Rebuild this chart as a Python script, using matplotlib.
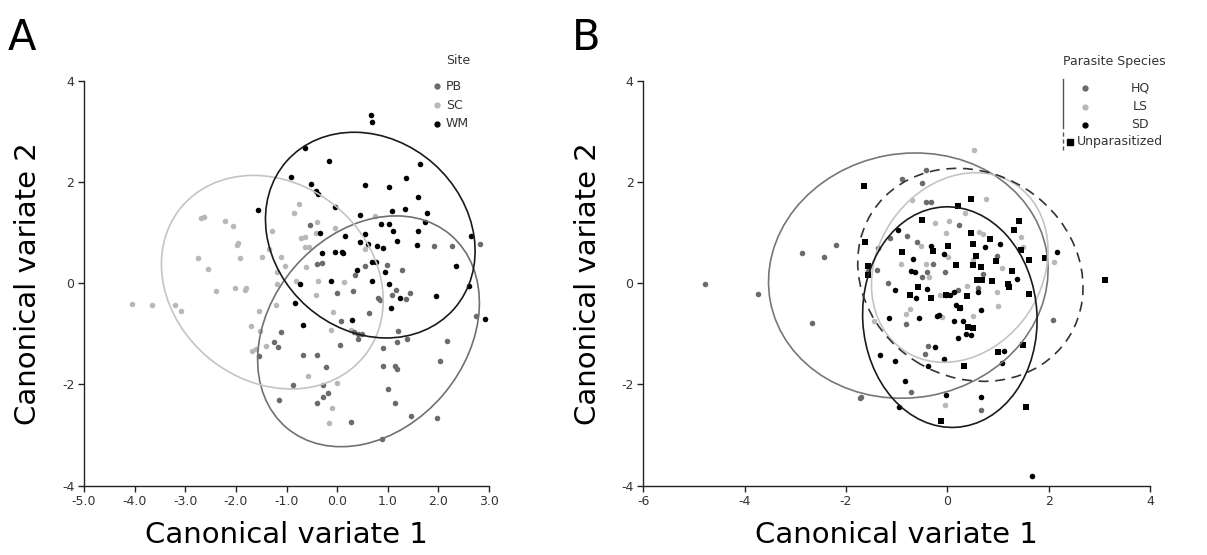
import matplotlib
matplotlib.use("Agg")
import matplotlib.pyplot as plt
from matplotlib.patches import Ellipse
from matplotlib.lines import Line2D

# ---- Panel A: canonical variates by site ----
pb_x = [1.92, 2.27, 2.82, 0.56, 0.98, 1.29, 0.35, -0.39, -0.29, 1.16, 1.08, 1.43, 1.36, 0.81, 0.85,
        0.00, 0.32, -0.53, 0.62, 0.08, 1.21, 0.33, 0.41, 0.50, 0.42, 1.18, 1.38, 2.18, 2.74, -1.11,
        -1.24, -1.17, -1.54, -0.68, -0.39, 0.06, 0.91, 0.90, -0.22, 1.14, 1.19, 2.03, -0.88, -0.27,
        1.01, -0.19, -0.27, -1.14, -0.39, 1.15, 1.45, 1.98, 0.28, 0.89]
pb_y = [0.74, 0.74, 0.77, 0.33, 0.36, 0.26, 0.16, 0.37, 0.39, -0.13, -0.23, -0.19, -0.31, -0.30, -0.34,
        -0.20, -0.16, 1.14, -0.59, -0.74, -0.95, -0.96, -1.01, -1.01, -1.11, -1.17, -1.10, -1.15, -0.64, -0.97,
        -1.16, -1.26, -1.43, -1.42, -1.42, -1.23, -1.28, -1.64, -1.66, -1.63, -1.69, -1.53, -2.01, -2.01,
        -2.09, -2.16, -2.24, -2.30, -2.36, -2.37, -2.63, -2.66, -2.74, -3.07]

sc_x = [-4.06, -3.66, -3.21, -3.08, -2.68, -2.62, -2.21, -2.06, -1.96, -1.97, -2.74, -2.55, -1.91, -2.40,
        -2.02, -1.80, -1.81, -1.48, -1.34, -1.28, -1.10, -1.03, -1.18, -1.19, -1.55, -1.20, -1.70, -1.52,
        -1.68, -1.61, -1.41, -0.86, -0.75, -0.72, -0.64, -0.64, -0.56, -0.39, -0.42, -0.04, -0.61, -0.38,
        -0.82, 0.13, -0.42, -0.09, -0.12, 0.56, 0.74, 0.27, -0.57, 0.00, -0.10, -0.16]
sc_y = [-0.41, -0.43, -0.43, -0.54, 1.28, 1.30, 1.23, 1.13, 0.80, 0.76, 0.50, 0.28, 0.50, -0.15,
        -0.10, -0.09, -0.14, 0.52, 0.68, 1.03, 0.51, 0.33, 0.23, -0.01, -0.54, -0.44, -0.84, -0.95,
        -1.34, -1.29, -1.25, 1.38, 1.57, 0.89, 0.92, 0.71, 0.71, 1.20, 0.99, 1.09, 0.32, 0.05,
        0.04, 0.02, -0.24, -0.57, -0.93, 0.68, 1.32, -0.93, -1.84, -1.97, -2.46, -2.77]

wm_x = [0.67, 0.69, -0.64, -0.16, 1.63, -0.92, 1.37, -0.52, 0.55, 1.02, -0.41, -0.37, 1.60, -1.57,
        -0.04, 1.34, 1.08, 1.77, 0.46, 1.73, 0.87, 1.02, 1.59, 1.10, -0.34, 0.56, 2.64, 0.16, 1.18,
        0.45, 0.61, 1.58, 0.79, 0.90, -0.29, -0.04, 0.09, 0.12, 0.69, 0.77, 2.35, 0.39, 0.94, -0.12,
        0.69, -0.73, 1.02, 2.61, -0.84, 1.24, 1.95, 1.06, 0.29, -0.67, 2.92]
wm_y = [3.32, 3.18, 2.68, 2.41, 2.36, 2.09, 2.07, 1.95, 1.93, 1.91, 1.82, 1.77, 1.71, 1.44,
        1.50, 1.46, 1.42, 1.39, 1.35, 1.20, 1.17, 1.16, 1.03, 1.03, 0.99, 0.97, 0.93, 0.93, 0.83,
        0.82, 0.78, 0.75, 0.73, 0.70, 0.59, 0.61, 0.61, 0.59, 0.41, 0.41, 0.33, 0.26, 0.23, 0.05,
        0.05, -0.01, -0.02, -0.05, -0.40, -0.30, -0.26, -0.48, -0.73, -0.82, -0.71]

# confidence ellipses (centre x, centre y, width, height, angle) for PB, SC, WM
site_ell_cx = [0.62, -1.28, 0.655]
site_ell_cy = [-0.95, 0.02, 0.95]
site_ell_w = [5.00, 4.66, 4.41]
site_ell_h = [3.87, 3.91, 3.77]
site_ell_ang = [49.6, -38.7, -41.5]

# ---- Panel B: canonical variates by parasite species ----
hq_x = [-4.78, -3.74, -2.68, -2.87, -2.43, -2.20, -1.72, -1.70, -0.89, -0.49, -0.42, -0.42, -0.33,
        -1.18, -1.38, -1.36, -1.14, -0.79, -0.60, -0.50, -0.40, -0.28, 0.23, -0.04, 0.21, -0.81,
        -0.39, -0.45, -0.71, 0.67, 2.09, 0.60, 0.98, 0.70, -1.56]
hq_y = [-0.02, -0.22, -0.79, 0.59, 0.52, 0.76, -2.26, -2.25, 2.05, 1.98, 2.24, 1.61, 1.61,
        0.00, 0.27, 0.70, 0.90, 0.94, 0.82, 0.13, 0.22, 0.38, 1.14, 0.22, -0.13, -0.81,
        -1.24, -1.39, -2.15, -2.50, -0.72, -0.09, 0.53, 0.18, 0.24]

ls_x = [0.52, 0.76, -0.70, 0.35, 0.03, -0.25, -0.02, 0.62, 0.70, 1.46, -0.51, -0.92, -0.43, -0.36,
        0.02, 1.08, 1.50, 2.11, 0.39, 0.98, 1.01, -0.15, -0.11, 0.50, -0.81, -0.74, -1.45, -0.05,
        1.22, 0.51]
ls_y = [2.64, 1.66, 1.65, 1.39, 1.23, 1.18, 1.00, 1.01, 0.98, 0.92, 0.73, 0.38, 0.38, 0.12,
        0.51, 0.30, 0.72, 0.42, -0.05, -0.18, -0.45, -0.24, -0.67, -0.64, -0.61, -0.50, -0.74, -2.40,
        -0.03, 0.45]

sd_x = [1.67, -0.98, -0.32, -0.07, 0.74, 1.04, 2.17, 1.37, -0.68, -0.72, -0.64, -1.03, -0.41, -0.61,
        -0.55, -0.21, -0.16, -1.15, 0.13, -0.02, 0.05, 0.17, 0.25, 0.66, 0.60, 0.13, 0.31, 0.21,
        0.37, 0.47, -0.25, -1.32, -1.03, -0.39, -0.06, 1.08, 1.12, -0.83, -0.96, -0.03, 0.67]
sd_y = [-3.80, 1.05, 0.74, 0.58, 0.72, 0.78, 0.61, 0.08, 0.47, 0.24, 0.22, -0.13, -0.11, -0.30,
        -0.68, -0.65, -0.63, -0.68, -0.18, -0.23, -0.24, -0.43, -0.49, -0.52, -0.18, -0.74, -0.75, -1.08,
        -1.01, -1.03, -1.26, -1.42, -1.53, -1.63, -1.49, -1.58, -1.34, -1.94, -2.45, -2.20, -2.24]

un_x = [-1.64, 0.46, 0.21, -0.50, 1.41, 1.32, 0.47, -1.62, 0.84, 0.50, -0.28, -0.90, 0.02, 0.56,
        1.46, -1.57, -1.57, 1.93, 1.62, 0.96, 0.18, 0.51, 0.67, 1.27, 0.58, 0.69, 0.89, 1.19, 1.21,
        3.11, -0.58, -0.33, -0.73, -0.02, 0.38, 0.26, 1.61, 0.40, 0.50, 1.00, 1.50, 0.33, 1.56, -0.12]
un_y = [1.92, 1.66, 1.53, 1.24, 1.22, 1.05, 0.99, 0.82, 0.88, 0.78, 0.63, 0.61, 0.74, 0.54,
        0.66, 0.33, 0.16, 0.49, 0.45, 0.43, 0.35, 0.36, 0.32, 0.25, 0.07, 0.06, 0.05, -0.01, -0.07,
        0.06, -0.08, -0.30, -0.24, -0.23, -0.26, -0.49, -0.22, -0.86, -0.88, -1.36, -1.22, -1.63, -2.44, -2.72]

# ellipses for HQ, LS, SD, Unparasitized
par_ell_cx = [-0.77, 0.245, 0.05, 0.455]
par_ell_cy = [0.15, 0.31, -0.67, 0.165]
par_ell_w = [5.54, 3.95, 4.36, 4.60]
par_ell_h = [4.82, 3.25, 3.44, 4.04]
par_ell_ang = [10.5, 56.0, 93.2, -32.3]

DARK = "#6b6b6b"
LIGHT = "#b8b8b8"
BLACK = "#000000"

plt.rcParams["font.family"] = "DejaVu Sans"
plt.rcParams["axes.unicode_minus"] = False

W, H = 1207, 555
fig = plt.figure(figsize=(W / 100, H / 100), dpi=100)


def px(x, y):
    return x / W, 1 - y / H


def style_axes(ax):
    for s in ["top", "right"]:
        ax.spines[s].set_visible(False)
    for s in ["left", "bottom"]:
        ax.spines[s].set_linewidth(1.0)
        ax.spines[s].set_color("#222222")
    ax.tick_params(length=4, width=1.0, color="#222222", labelsize=9, labelcolor="#333333", pad=3)
    ax.set_ylim(-4, 4)
    ax.set_yticks([-4, -2, 0, 2, 4])
    ax.set_xlabel("Canonical variate 1", fontsize=21, labelpad=9)
    ax.set_ylabel("Canonical variate 2", fontsize=21, labelpad=14)


# Panel A
axA = fig.add_axes([84 / W, 1 - 485.7 / H, (489 - 84) / W, (485.7 - 80.7) / H])
style_axes(axA)
axA.set_xlim(-5, 3)
axA.set_xticks(range(-5, 4))
axA.set_xticklabels([f"{v:.1f}" for v in range(-5, 4)])

ms = 16
axA.scatter(sc_x, sc_y, s=ms, color=LIGHT, linewidths=0, zorder=3)
axA.scatter(pb_x, pb_y, s=ms, color=DARK, linewidths=0, zorder=3)
axA.scatter(wm_x, wm_y, s=ms, color=BLACK, linewidths=0, zorder=4)

site_ell_colors = ["#707070", "#c4c4c4", "#1a1a1a"]
for i in range(3):
    axA.add_patch(Ellipse((site_ell_cx[i], site_ell_cy[i]), site_ell_w[i], site_ell_h[i],
                          angle=site_ell_ang[i], fill=False, edgecolor=site_ell_colors[i],
                          linewidth=1.2, zorder=5))

# Panel B
axB = fig.add_axes([643.3 / W, 1 - 485.7 / H, (1150 - 643.3) / W, (485.7 - 80.7) / H])
style_axes(axB)
axB.set_xlim(-6, 4)
axB.set_xticks([-6, -4, -2, 0, 2, 4])

axB.scatter(hq_x, hq_y, s=ms, color=DARK, linewidths=0, zorder=3)
axB.scatter(ls_x, ls_y, s=ms, color=LIGHT, linewidths=0, zorder=3)
axB.scatter(sd_x, sd_y, s=ms, color=BLACK, linewidths=0, zorder=4)
axB.scatter(un_x, un_y, s=20, color=BLACK, marker="s", linewidths=0, zorder=4)

par_ell_colors = ["#777777", "#c4c4c4", "#1a1a1a", "#333333"]
par_ell_ls = ["-", "-", "-", (0, (6, 4))]
for i in range(4):
    axB.add_patch(Ellipse((par_ell_cx[i], par_ell_cy[i]), par_ell_w[i], par_ell_h[i],
                          angle=par_ell_ang[i], fill=False, edgecolor=par_ell_colors[i],
                          linestyle=par_ell_ls[i], linewidth=1.2, zorder=5))

# panel letters
fig.text(*px(8, 50), "A", fontsize=30, ha="left", va="baseline")
fig.text(*px(572, 50), "B", fontsize=30, ha="left", va="baseline")

# legend A
fig.text(*px(446, 60), "Site", fontsize=9, va="center", color="#333333")
for name, col, yy in [("PB", DARK, 86), ("SC", LIGHT, 105), ("WM", BLACK, 124)]:
    fig.add_artist(Line2D([px(437, yy)[0]], [px(437, yy)[1]], marker="o", markersize=3.5,
                          color=col, linestyle="none", transform=fig.transFigure))
    fig.text(*px(446, yy), name, fontsize=9, va="center", color="#333333")

# legend B
fig.text(*px(1063, 62), "Parasite Species", fontsize=9, va="center", color="#333333")
for name, col, yy in [("HQ", DARK, 88), ("LS", LIGHT, 107), ("SD", BLACK, 125)]:
    fig.add_artist(Line2D([px(1085, yy)[0]], [px(1085, yy)[1]], marker="o", markersize=3.5,
                          color=col, linestyle="none", transform=fig.transFigure))
    fig.text(*px(1140, yy), name, fontsize=9, va="center", ha="center", color="#333333")
fig.add_artist(Line2D([px(1070, 142)[0]], [px(1070, 142)[1]], marker="s", markersize=4,
                      color=BLACK, linestyle="none", transform=fig.transFigure))
fig.text(*px(1077, 142), "Unparasitized", fontsize=9, va="center", color="#333333")
x0, y0 = px(1063, 79)
x1, y1 = px(1063, 128)
fig.add_artist(Line2D([x0, x1], [y0, y1], color="#555555", linewidth=1.0, transform=fig.transFigure))
x0, y0 = px(1063, 132)
x1, y1 = px(1063, 152)
fig.add_artist(Line2D([x0, x1], [y0, y1], color="#555555", linewidth=1.0, linestyle=(0, (3, 2)),
                      transform=fig.transFigure))

fig.savefig("out.png", dpi=100)
